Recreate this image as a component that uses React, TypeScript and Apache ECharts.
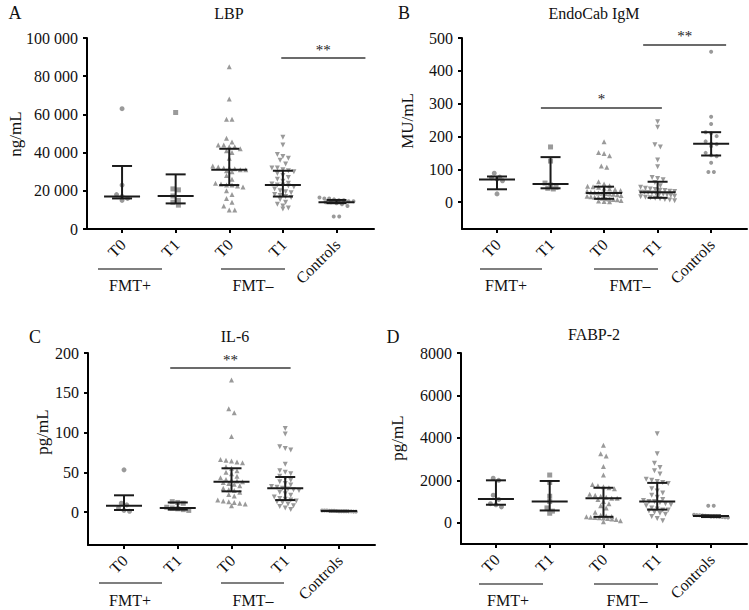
import React, { useEffect, useRef } from 'react';
import * as echarts from 'echarts';

// ---------- categories / labels ----------
const categories = ['T0', 'T1', 'T0', 'T1', 'Controls'];
const groupLabels = ['FMT+', 'FMT\u2013'];

// ---------- Panel A: LBP (ng/mL) ----------
const lbpFmtPlusT0 = [63000, 23000, 18000, 17000, 16000, 15000];
const lbpFmtPlusT1 = [61000, 21000, 20500, 17300, 15000, 14000, 12500];
const lbpFmtMinusT0 = [85000, 68000, 57500, 57500, 47500, 45500, 44000, 44000, 43000, 43000, 42000, 41000, 40000, 37000, 33000, 32500, 32000, 32000, 31500, 31000, 31000, 30500, 30000, 28000, 26000, 24000, 23500, 23000, 23000, 22500, 22000, 20000, 18000, 16000, 14000, 12000, 10000, 10000];
const lbpFmtMinusT1 = [48000, 44000, 39000, 38000, 37000, 36000, 34000, 32000, 32000, 31000, 30500, 30000, 29000, 28000, 27000, 26000, 25000, 24000, 23500, 23000, 23000, 22500, 22000, 21000, 20000, 19500, 19000, 18000, 17500, 17000, 16500, 15500, 14000, 13000, 12000, 11000, 10500];
const lbpControls = [16500, 16000, 16000, 15500, 15000, 15000, 14500, 14500, 14000, 14000, 13500, 13000, 12000, 6500, 6500];
const lbpMedian = [17000, 17300, 31000, 23000, 14000];
const lbpQ1 = [16000, 13400, 23000, 17000, 13500];
const lbpQ3 = [33000, 28600, 42000, 30500, 15200];
const lbpTicks = [0, 20000, 40000, 60000, 80000, 100000];
const lbpSig: [number, number, number, string][] = [[2.97, 4.54, 89500, '**']];

// ---------- Panel B: EndoCab IgM (MU/mL) ----------
const endoFmtPlusT0 = [88, 76, 74, 70, 65, 25];
const endoFmtPlusT1 = [168, 125, 58, 52, 45, 42, 40];
const endoFmtMinusT0 = [184, 151, 148, 141, 110, 106, 62, 55, 50, 48, 47, 45, 42, 40, 38, 35, 33, 30, 29, 28, 27, 26, 25, 24, 22, 20, 18, 16, 15, 14, 12, 10, 9, 8, 7, 5, 3, 2, 1];
const endoFmtMinusT1 = [245, 228, 175, 168, 128, 108, 75, 72, 68, 60, 50, 45, 42, 40, 38, 36, 35, 33, 32, 30, 30, 29, 28, 27, 25, 24, 22, 20, 18, 16, 15, 13, 12, 10, 8, 6, 4];
const endoControls = [458, 260, 238, 213, 210, 201, 185, 178, 176, 170, 150, 143, 140, 120, 92, 92];
const endoMedian = [69, 55, 28, 30, 178];
const endoQ1 = [39, 42, 10, 13, 142];
const endoQ3 = [78, 137, 47, 62, 213];
const endoTicks = [0, 100, 200, 300, 400, 500];
const endoSig: [number, number, number, string][] = [[0.82, 3.08, 287, '*'], [2.73, 4.28, 479, '**']];

// ---------- Panel C: IL-6 (pg/mL) ----------
const il6FmtPlusT0 = [53, 11, 9, 5, 2, 1];
const il6FmtPlusT1 = [13, 12, 11, 6, 5, 4, 3, 2];
const il6FmtMinusT0 = [166, 130, 125, 95, 66, 65, 64, 63, 62, 57, 55, 52, 50, 48, 45, 43, 41, 40, 39, 38, 37, 36, 35, 33, 30, 28, 27, 25, 22, 20, 15, 14, 13, 12, 11, 10, 8];
const il6FmtMinusT1 = [105, 98, 82, 80, 78, 60, 52, 50, 48, 45, 42, 40, 38, 36, 34, 32, 31, 30, 29, 28, 27, 25, 23, 21, 19, 17, 16, 15, 14, 13, 12, 10, 8, 7, 5, 3];
const il6Controls = [2, 2, 2, 1.5, 1.5, 1.5, 1.2, 1, 1, 1, 1, 0.8, 0.8, 0.5, 0.5];
const il6Median = [8, 5, 38, 30, 1.2];
const il6Q1 = [2.5, 3, 26, 15, 0.8];
const il6Q3 = [21, 12, 55, 44, 1.5];
const il6Ticks = [0, 50, 100, 150, 200];
const il6Sig: [number, number, number, string][] = [[0.86, 3.1, 181, '**']];

// ---------- Panel D: FABP-2 (pg/mL) ----------
const fabpFmtPlusT0 = [2100, 2000, 1300, 1100, 900, 850, 750];
const fabpFmtPlusT1 = [2250, 1900, 1250, 1000, 700, 550, 450];
const fabpFmtMinusT0 = [3650, 3250, 3150, 2650, 2250, 1800, 1750, 1700, 1650, 1600, 1350, 1300, 1250, 1200, 1150, 1150, 1100, 1000, 900, 800, 700, 500, 350, 320, 300, 280, 260, 250, 240, 220, 200, 180, 150, 100, 50];
const fabpFmtMinusT1 = [4200, 3250, 2800, 2600, 2450, 2300, 2050, 2000, 1950, 1900, 1850, 1600, 1500, 1400, 1300, 1200, 1100, 1050, 1000, 1000, 950, 900, 850, 800, 700, 650, 600, 600, 550, 500, 450, 400, 300, 200, 100];
const fabpControls = [800, 800, 380, 360, 350, 340, 330, 320, 300, 300, 290, 280, 270, 260, 250];
const fabpMedian = [1120, 1000, 1150, 1000, 320];
const fabpQ1 = [850, 580, 280, 620, 270];
const fabpQ3 = [2000, 1970, 1650, 1880, 350];
const fabpTicks = [0, 2000, 4000, 6000, 8000];
const fabpSig: [number, number, number, string][] = [];

// ---------- layout ----------
const FAMILY = 'Liberation Serif';
const POINT_COLOR = '#9a9a9a';
const symbols = ['circle', 'rect', 'triangle', 'triangle', 'circle'];
const symbolRotates = [0, 0, 0, 180, 0];
const symbolSizes = [5, 5, 5, 5, 4];

type Panel = {
  letter: string; title: string; unit: string;
  groups: number[][]; median: number[]; q1: number[]; q3: number[];
  ticks: number[]; sig: [number, number, number, string][];
  yMin: number; yMax: number; xMin: number; xMax: number;
  grid: { left: number; top: number; width: number; height: number };
  letterPos: [number, number]; titlePos: [number, number]; unitPos: [number, number];
  brackets: [number, number, number][]; bracketY: number; groupTextY: number;
  thousands: boolean;
};

const panels: Panel[] = [
  {
    letter: 'A', title: 'LBP', unit: 'ng/mL',
    groups: [lbpFmtPlusT0, lbpFmtPlusT1, lbpFmtMinusT0, lbpFmtMinusT1, lbpControls],
    median: lbpMedian, q1: lbpQ1, q3: lbpQ3, ticks: lbpTicks, sig: lbpSig,
    yMin: 0, yMax: 100000, xMin: -0.654, xMax: 4.7,
    grid: { left: 87, top: 38, width: 287, height: 191 },
    letterPos: [15, 13], titlePos: [229, 13], unitPos: [15, 134],
    brackets: [[98, 162, 130], [221, 285, 253]], bracketY: 269, groupTextY: 285,
    thousands: true,
  },
  {
    letter: 'B', title: 'EndoCab IgM', unit: 'MU/mL',
    groups: [endoFmtPlusT0, endoFmtPlusT1, endoFmtMinusT0, endoFmtMinusT1, endoControls],
    median: endoMedian, q1: endoQ1, q3: endoQ3, ticks: endoTicks, sig: endoSig,
    yMin: -82, yMax: 500, xMin: -0.654, xMax: 4.67,
    grid: { left: 462, top: 38, width: 285, height: 191 },
    letterPos: [404, 13], titlePos: [594, 13], unitPos: [407, 121],
    brackets: [[480, 542, 506], [594, 658, 630]], bracketY: 269, groupTextY: 285,
    thousands: false,
  },
  {
    letter: 'C', title: 'IL-6', unit: 'pg/mL',
    groups: [il6FmtPlusT0, il6FmtPlusT1, il6FmtMinusT0, il6FmtMinusT1, il6Controls],
    median: il6Median, q1: il6Q1, q3: il6Q3, ticks: il6Ticks, sig: il6Sig,
    yMin: -41.5, yMax: 200, xMin: -0.67, xMax: 4.67,
    grid: { left: 88, top: 353, width: 287, height: 192 },
    letterPos: [35, 337], titlePos: [235, 336], unitPos: [42, 432],
    brackets: [[99, 162, 130], [221, 284, 253]], bracketY: 583, groupTextY: 600,
    thousands: false,
  },
  {
    letter: 'D', title: 'FABP-2', unit: 'pg/mL',
    groups: [fabpFmtPlusT0, fabpFmtPlusT1, fabpFmtMinusT0, fabpFmtMinusT1, fabpControls],
    median: fabpMedian, q1: fabpQ1, q3: fabpQ3, ticks: fabpTicks, sig: fabpSig,
    yMin: -1000, yMax: 8000, xMin: -0.65, xMax: 4.67,
    grid: { left: 461, top: 353, width: 286, height: 191 },
    letterPos: [393, 337], titlePos: [594, 334], unitPos: [397, 438],
    brackets: [[479, 543, 508], [594, 658, 627]], bracketY: 584, groupTextY: 600,
    thousands: false,
  },
];

// deterministic beeswarm layout: points of similar value share a row
function swarm(values: number[], idx: number, binVal: number, spacing: number, maxHalf: number) {
  const sorted = [...values].sort((a, b) => b - a);
  const out: number[][] = [];
  let i = 0;
  while (i < sorted.length) {
    const start = sorted[i];
    const row: number[] = [];
    while (i < sorted.length && start - sorted[i] <= binVal) { row.push(sorted[i]); i++; }
    const n = row.length;
    let sp = spacing;
    if (n > 1 && ((n - 1) * sp) / 2 > maxHalf) sp = (2 * maxHalf) / (n - 1);
    row.forEach((v, k) => out.push([idx + (k - (n - 1) / 2) * sp, v]));
  }
  return out;
}

function fmtThousands(v: number) {
  if (v < 1000) return String(v);
  const s = String(v);
  return s.slice(0, s.length - 3) + ' ' + s.slice(s.length - 3);
}

function txt(x: number, y: number, text: string, size: number, align: string, extra: any = {}) {
  return {
    type: 'text', x, y, silent: true, ...extra,
    style: { text, font: `${size}px ${FAMILY}`, fill: '#111', align, verticalAlign: 'middle' },
  };
}

function buildOption() {
  const grids: any[] = [];
  const xAxes: any[] = [];
  const yAxes: any[] = [];
  const series: any[] = [];

  panels.forEach((p, pi) => {
    grids.push({ ...p.grid, containLabel: false });
    xAxes.push({
      type: 'value', gridIndex: pi, min: p.xMin, max: p.xMax,
      splitLine: { show: false },
      axisLine: { onZero: false, lineStyle: { color: '#000', width: 2 } },
      axisTick: { customValues: [0, 1, 2, 3, 4], length: 4, lineStyle: { color: '#000', width: 2 } },
      axisLabel: { show: false },
    });
    yAxes.push({
      type: 'value', gridIndex: pi, min: p.yMin, max: p.yMax,
      splitLine: { show: false },
      axisLine: { onZero: false, lineStyle: { color: '#000', width: 2 } },
      axisTick: { customValues: p.ticks, length: 4, lineStyle: { color: '#000', width: 2 } },
      axisLabel: { show: false },
    });

    const pxPerVal = p.grid.height / (p.yMax - p.yMin);
    const pxPerIdx = p.grid.width / (p.xMax - p.xMin);
    const binVal = 4.5 / pxPerVal;
    const spacing = 5.5 / pxPerIdx;
    const maxHalf = 17 / pxPerIdx;

    p.groups.forEach((vals, gi) => {
      series.push({
        type: 'scatter', xAxisIndex: pi, yAxisIndex: pi,
        data: swarm(vals, gi, binVal, spacing, maxHalf),
        symbol: symbols[gi], symbolRotate: symbolRotates[gi], symbolSize: symbolSizes[gi],
        itemStyle: { color: POINT_COLOR, opacity: 1 }, z: 2, silent: true,
      });
    });

    // median and interquartile range
    series.push({
      type: 'custom', xAxisIndex: pi, yAxisIndex: pi, z: 5, silent: true,
      data: p.median.map((m, i) => [i, m, p.q1[i], p.q3[i]]),
      encode: { x: 0, y: [1, 2, 3] },
      renderItem: (_params: any, api: any) => {
        const x = api.value(0);
        const pm = api.coord([x, api.value(1)]);
        const pa = api.coord([x, api.value(2)]);
        const pb = api.coord([x, api.value(3)]);
        const style = { stroke: '#1a1a1a', lineWidth: 2 };
        return {
          type: 'group',
          children: [
            { type: 'line', shape: { x1: pa[0], y1: pa[1], x2: pb[0], y2: pb[1] }, style },
            { type: 'line', shape: { x1: pm[0] - 18, y1: pm[1], x2: pm[0] + 18, y2: pm[1] }, style },
            { type: 'line', shape: { x1: pa[0] - 10, y1: pa[1], x2: pa[0] + 10, y2: pa[1] }, style },
            { type: 'line', shape: { x1: pb[0] - 10, y1: pb[1], x2: pb[0] + 10, y2: pb[1] }, style },
          ],
        };
      },
    });

    // significance bars
    if (p.sig.length) {
      series.push({
        type: 'custom', xAxisIndex: pi, yAxisIndex: pi, z: 6, silent: true,
        data: p.sig.map(([a, b, y]) => [a, b, y]),
        encode: { x: [0, 1], y: 2 },
        renderItem: (_params: any, api: any) => {
          const y = api.value(2);
          const p1 = api.coord([api.value(0), y]);
          const p2 = api.coord([api.value(1), y]);
          return {
            type: 'line', shape: { x1: p1[0], y1: p1[1], x2: p2[0], y2: p2[1] },
            style: { stroke: '#3a3a3a', lineWidth: 1.5 },
          };
        },
      });
    }
  });

  return {
    animation: false,
    backgroundColor: '#fff',
    grid: grids,
    xAxis: xAxes,
    yAxis: yAxes,
    series,
  };
}

// texts placed after layout, positions taken from the chart's own scales
function buildGraphics(chart: echarts.ECharts) {
  const g: any[] = [];
  panels.forEach((p, pi) => {
    const finder = { xAxisIndex: pi, yAxisIndex: pi } as any;
    const px = (x: number, y: number) => chart.convertToPixel(finder, [x, y]) as number[];

    p.ticks.forEach((t) => {
      const pt = px(p.xMin, t);
      g.push(txt(pt[0] - 9, pt[1], p.thousands ? fmtThousands(t) : String(t), 16, 'right'));
    });
    categories.forEach((c, i) => {
      const pt = px(i, p.yMin);
      g.push(txt(pt[0] + 1, pt[1] + 13, c, 16, 'right', { rotation: Math.PI / 4 }));
    });
    p.sig.forEach(([a, b, y, lab]) => {
      const p1 = px(a, y);
      const p2 = px(b, y);
      g.push({
        type: 'text', x: (p1[0] + p2[0]) / 2, y: p1[1] - 1, silent: true,
        style: { text: lab, font: `15px ${FAMILY}`, fill: '#222', align: 'center', verticalAlign: 'bottom' },
      });
    });

    g.push(txt(p.letterPos[0], p.letterPos[1], p.letter, 18, 'center'));
    g.push(txt(p.titlePos[0], p.titlePos[1], p.title, 16, 'center'));
    g.push(txt(p.unitPos[0], p.unitPos[1], p.unit, 17, 'center', { rotation: Math.PI / 2 }));
    p.brackets.forEach(([x1, x2, xt], bi) => {
      g.push({
        type: 'line', silent: true, shape: { x1, y1: p.bracketY, x2, y2: p.bracketY },
        style: { stroke: '#555', lineWidth: 1.5 },
      });
      g.push(txt(xt, p.groupTextY, groupLabels[bi], 16, 'center'));
    });
  });
  return g;
}

export default function App() {
  const ref = useRef<HTMLDivElement>(null);
  useEffect(() => {
    if (!ref.current) return;
    const chart = echarts.init(ref.current, undefined, { renderer: 'svg' });
    chart.setOption(buildOption() as any);
    chart.setOption({ graphic: buildGraphics(chart) } as any);
    return () => chart.dispose();
  }, []);
  return (
    <div
      ref={ref}
      style={{ position: 'absolute', left: 0, top: 0, width: 749, height: 610, background: '#fff' }}
    />
  );
}
